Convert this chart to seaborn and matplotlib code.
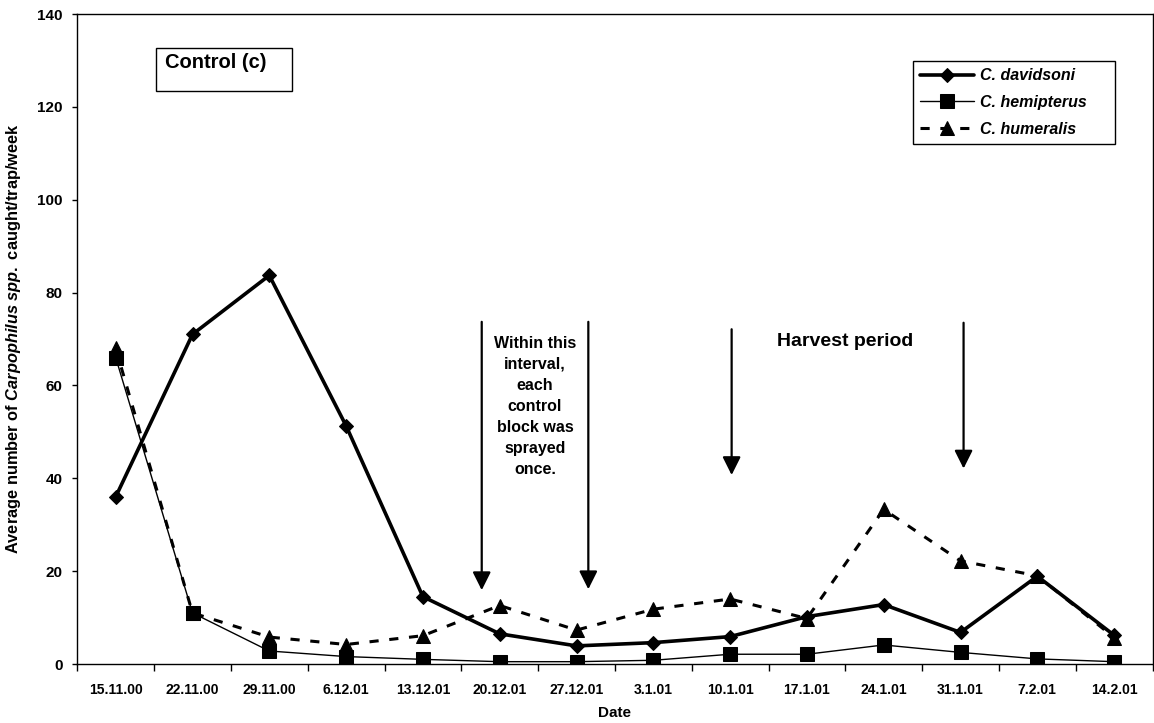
import matplotlib
matplotlib.use("Agg")
import matplotlib.pyplot as plt
from matplotlib.patches import Rectangle
import numpy as np
import pandas as pd
import seaborn as sns

# Weekly trap catches of Carpophilus beetles in the control block
dates = ["15.11.00", "22.11.00", "29.11.00", "6.12.01", "13.12.01", "20.12.01",
         "27.12.01", "3.1.01", "10.1.01", "17.1.01", "24.1.01", "31.1.01",
         "7.2.01", "14.2.01"]
davidsoni = [36, 71, 83.7, 51.3, 14.5, 6.5, 3.9, 4.6, 5.9, 10.2, 12.8, 6.8, 18.9, 6.2]
hemipterus = [66, 11, 2.8, 1.6, 1.0, 0.5, 0.5, 0.8, 2.1, 2.1, 4.1, 2.5, 1.1, 0.5]
humeralis = [68, 11, 5.8, 4.2, 6.1, 12.6, 7.3, 11.8, 14.0, 9.8, 33.3, 22.2, 19.0, 5.7]
species = ["C. davidsoni", "C. hemipterus", "C. humeralis"]
y_ticks = [0, 20, 40, 60, 80, 100, 120, 140]

sns.set_theme(style="white")
plt.rcParams["font.family"] = ["Liberation Sans", "DejaVu Sans"]
plt.rcParams["mathtext.fontset"] = "custom"
plt.rcParams["mathtext.it"] = "Liberation Sans:italic:bold"
plt.rcParams["mathtext.rm"] = "Liberation Sans:bold"
for key in ["text.color", "axes.labelcolor", "xtick.color", "ytick.color",
            "axes.edgecolor"]:
    plt.rcParams[key] = "black"

W, H = 1154, 723
fig = plt.figure(figsize=(W / 100, H / 100), dpi=100)
ax = fig.add_axes([77.3 / W, 1 - 664 / H, (1152.5 - 77.3) / W, (664 - 14) / H])

df = pd.DataFrame({"Date": dates, species[0]: davidsoni,
                   species[1]: hemipterus, species[2]: humeralis})

styles = {
    species[0]: dict(marker="D", markersize=7, lw=2.6, linestyle="-", zorder=3),
    species[2]: dict(marker="^", markersize=10.5, lw=2.2, linestyle=(0, (3, 3.5)), zorder=4),
    species[1]: dict(marker="s", markersize=10, lw=1.0, linestyle="-", zorder=5),
}
for name in [species[0], species[2], species[1]]:
    sns.lineplot(data=df, x="Date", y=name, ax=ax, color="black", sort=False,
                 errorbar=None, markeredgecolor="black", markerfacecolor="black",
                 label=name, **styles[name])

ax.set_xlim(-0.5, len(dates) - 0.5)
ax.set_ylim(0, 140)
ax.set_yticks(y_ticks)
ax.set_xticks(np.arange(len(dates)))
ax.set_xticklabels(dates)
ax.set_xticks(np.arange(len(dates) + 1) - 0.5, minor=True)

for s in ax.spines.values():
    s.set_visible(True)
    s.set_color("black")
    s.set_linewidth(1.0)

ax.tick_params(axis="x", which="major", length=0, pad=14, labelsize=10)
ax.tick_params(axis="x", which="minor", length=5, width=1, direction="out",
               color="black", bottom=True)
ax.tick_params(axis="y", length=3.6, width=1, direction="out", color="black",
               left=True, pad=7, labelsize=11)
for lab in ax.get_xticklabels() + ax.get_yticklabels():
    lab.set_fontweight("bold")

ax.set_xlabel("Date", fontsize=11, fontweight="bold")
ax.set_ylabel(r"Average number of $\mathit{Carpophilus}$ $\mathit{spp.}$ caught/trap/week",
              fontsize=11.8, fontweight="bold")
ax.xaxis.set_label_coords(0.5, -0.064)
ax.yaxis.set_label_coords(-0.0505, 0.5)

# Legend box
handles, labels = ax.get_legend_handles_labels()
order = [labels.index(n) for n in species]
ax.legend([handles[i] for i in order], [labels[i] for i in order],
          loc="upper left", bbox_to_anchor=(913 / W, 1 - 142 / H, 202 / W, 81 / H),
          bbox_transform=fig.transFigure, mode="expand", borderaxespad=0,
          frameon=True, fancybox=False, edgecolor="black", framealpha=1,
          prop={"style": "italic", "weight": "bold", "size": 11.5},
          handlelength=3.4, handletextpad=0.35, labelspacing=0.74, borderpad=0.45)
ax.get_legend().get_frame().set_linewidth(1.0)

# "Control (c)" title box
fig.patches.append(Rectangle((155.7 / W, 1 - 90.7 / H), 136.6 / W, 43 / H,
                             transform=fig.transFigure, fill=False,
                             edgecolor="black", lw=1.0))
fig.text(165 / W, 1 - 62 / H, "Control (c)", fontsize=14.5, fontweight="bold",
         ha="left", va="center")

# Spraying interval and harvest period arrows
arrow_kw = dict(arrowstyle="-|>,head_length=1.0,head_width=0.5", color="black",
                lw=1.6, mutation_scale=11, shrinkA=0, shrinkB=0)
for x, y0, y1 in [(4.766, 73.7, 15.9), (6.154, 73.7, 16.1),
                  (8.02, 72.1, 40.7), (11.04, 73.5, 42.1)]:
    ax.annotate("", xy=(x, y1), xytext=(x, y0), arrowprops=arrow_kw)

ax.text(5.46, 55.5, "Within this\ninterval,\neach\ncontrol\nblock was\nsprayed\nonce.",
        ha="center", va="center", fontsize=11.5, fontweight="bold", linespacing=1.5)
ax.text(8.61, 69.4, "Harvest period", ha="left", va="center", fontsize=14,
        fontweight="bold")

fig.savefig("out.png", dpi=100)
